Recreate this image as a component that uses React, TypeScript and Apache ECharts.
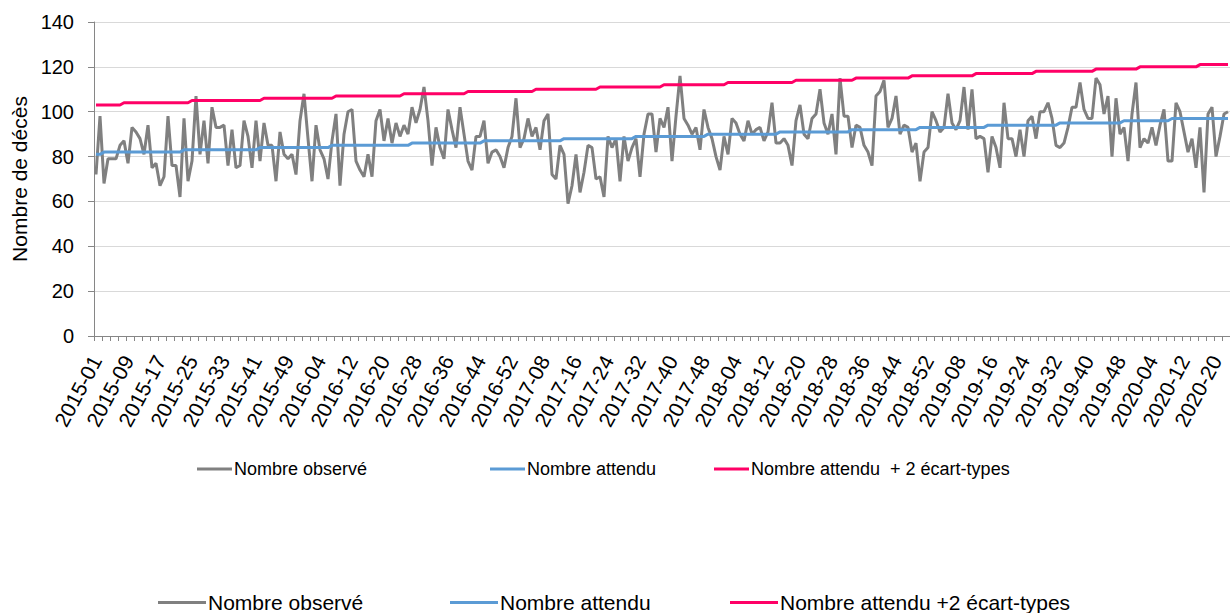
import React, { useEffect, useRef } from "react";
import * as echarts from "echarts";

const FONT = "'Liberation Sans', Arial, sans-serif";

// ISO weeks shown per year
const years = [2015, 2016, 2017, 2018, 2019, 2020];
const weeksPerYear = [53, 52, 52, 52, 52, 23];

const categories: string[] = [];
years.forEach((y, k) => {
  for (let w = 1; w <= weeksPerYear[k]; w++) {
    categories.push(`${y}-${w < 10 ? "0" + w : w}`);
  }
});

const yTicks = { min: 0, max: 140, interval: 20 };

const observed = [
  72, 98, 68, 79, 79, 79, 85, 87, 77, 93,
  91, 88, 81, 94, 75, 77, 67, 71, 98, 76,
  76, 62, 97, 69, 78, 107, 81, 96, 77, 102,
  93, 93, 94, 76, 92, 75, 76, 96, 89, 75,
  96, 78, 95, 85, 85, 69, 91, 81, 79, 81,
  72, 96, 108, 88, 69, 94, 83, 79, 70, 87,
  99, 67, 90, 100, 101, 78, 74, 71, 81, 71,
  96, 101, 87, 97, 86, 95, 89, 94, 90, 102,
  95, 101, 111, 96, 76, 93, 84, 79, 101, 92,
  84, 102, 90, 78, 74, 89, 89, 96, 77, 82,
  83, 80, 75, 84, 89, 106, 84, 88, 97, 89,
  93, 83, 96, 99, 72, 70, 85, 81, 59, 67,
  81, 64, 73, 85, 84, 70, 71, 62, 89, 84,
  88, 69, 89, 78, 84, 88, 71, 90, 99, 99,
  82, 97, 93, 102, 78, 98, 116, 97, 94, 90,
  93, 83, 101, 93, 88, 80, 74, 89, 81, 97,
  95, 90, 87, 96, 90, 92, 93, 87, 91, 104,
  86, 86, 88, 85, 76, 96, 103, 90, 88, 97,
  99, 110, 95, 90, 99, 81, 115, 98, 98, 84,
  94, 93, 85, 82, 76, 107, 109, 114, 93, 97,
  107, 90, 94, 93, 82, 86, 69, 82, 84, 100,
  96, 91, 93, 108, 95, 92, 96, 111, 92, 110,
  88, 89, 88, 73, 89, 84, 75, 104, 88, 88,
  80, 92, 80, 96, 98, 88, 100, 100, 104, 97,
  85, 84, 86, 93, 102, 102, 113, 101, 97, 97,
  115, 112, 99, 107, 80, 106, 90, 93, 78, 99,
  113, 84, 88, 86, 93, 85, 94, 101, 78, 78,
  104, 100, 91, 82, 88, 75, 93, 64, 99, 102,
  80, 89, 99, 100,
];

const expected = [
  81, 81, 82, 82, 82, 82, 82, 82, 82, 82, 82, 82, 82, 82, 82, 82, 82, 82, 82, 82,
  82, 82, 83, 83, 83, 83, 83, 83, 83, 83, 83, 83, 83, 83, 83, 83, 83, 83, 83, 83,
  83, 84, 84, 84, 84, 84, 84, 84, 84, 84, 84, 84, 84, 84, 84, 84, 84, 84, 84, 85,
  85, 85, 85, 85, 85, 85, 85, 85, 85, 85, 85, 85, 85, 85, 85, 85, 85, 85, 85, 86,
  86, 86, 86, 86, 86, 86, 86, 86, 86, 86, 86, 86, 86, 86, 86, 86, 86, 87, 87, 87,
  87, 87, 87, 87, 87, 87, 87, 87, 87, 87, 87, 87, 87, 87, 87, 87, 87, 88, 88, 88,
  88, 88, 88, 88, 88, 88, 88, 88, 88, 88, 88, 88, 88, 88, 88, 89, 89, 89, 89, 89,
  89, 89, 89, 89, 89, 89, 89, 89, 89, 89, 89, 89, 89, 90, 90, 90, 90, 90, 90, 90,
  90, 90, 90, 90, 90, 90, 90, 90, 90, 90, 90, 91, 91, 91, 91, 91, 91, 91, 91, 91,
  91, 91, 91, 91, 91, 91, 91, 91, 91, 92, 92, 92, 92, 92, 92, 92, 92, 92, 92, 92,
  92, 92, 92, 92, 92, 92, 93, 93, 93, 93, 93, 93, 93, 93, 93, 93, 93, 93, 93, 93,
  93, 93, 93, 94, 94, 94, 94, 94, 94, 94, 94, 94, 94, 94, 94, 94, 94, 94, 94, 94,
  94, 95, 95, 95, 95, 95, 95, 95, 95, 95, 95, 95, 95, 95, 95, 95, 95, 96, 96, 96,
  96, 96, 96, 96, 96, 96, 96, 96, 96, 97, 97, 97, 97, 97, 97, 97, 97, 97, 97, 97,
  97, 97, 97, 97,
];

const threshold = [
  103, 103, 103, 103, 103, 103, 103, 104, 104, 104, 104, 104, 104, 104, 104, 104, 104, 104, 104, 104,
  104, 104, 104, 104, 105, 105, 105, 105, 105, 105, 105, 105, 105, 105, 105, 105, 105, 105, 105, 105,
  105, 105, 106, 106, 106, 106, 106, 106, 106, 106, 106, 106, 106, 106, 106, 106, 106, 106, 106, 106,
  107, 107, 107, 107, 107, 107, 107, 107, 107, 107, 107, 107, 107, 107, 107, 107, 107, 108, 108, 108,
  108, 108, 108, 108, 108, 108, 108, 108, 108, 108, 108, 108, 108, 109, 109, 109, 109, 109, 109, 109,
  109, 109, 109, 109, 109, 109, 109, 109, 109, 109, 110, 110, 110, 110, 110, 110, 110, 110, 110, 110,
  110, 110, 110, 110, 110, 110, 111, 111, 111, 111, 111, 111, 111, 111, 111, 111, 111, 111, 111, 111,
  111, 111, 112, 112, 112, 112, 112, 112, 112, 112, 112, 112, 112, 112, 112, 112, 112, 112, 113, 113,
  113, 113, 113, 113, 113, 113, 113, 113, 113, 113, 113, 113, 113, 113, 113, 114, 114, 114, 114, 114,
  114, 114, 114, 114, 114, 114, 114, 114, 114, 114, 115, 115, 115, 115, 115, 115, 115, 115, 115, 115,
  115, 115, 115, 115, 116, 116, 116, 116, 116, 116, 116, 116, 116, 116, 116, 116, 116, 116, 116, 116,
  117, 117, 117, 117, 117, 117, 117, 117, 117, 117, 117, 117, 117, 117, 117, 118, 118, 118, 118, 118,
  118, 118, 118, 118, 118, 118, 118, 118, 118, 118, 119, 119, 119, 119, 119, 119, 119, 119, 119, 119,
  119, 120, 120, 120, 120, 120, 120, 120, 120, 120, 120, 120, 120, 120, 120, 120, 121, 121, 121, 121,
  121, 121, 121, 121,
];

const seriesNames = ["Nombre observé", "Nombre attendu", "Nombre attendu +2 écart-types"];
const seriesColors = ["#808080", "#5B9BD5", "#FF0066"];
const legendTopLabels = ["Nombre observé", "Nombre attendu", "Nombre attendu  + 2 écart-types"];
const legendBottomLabels = ["Nombre observé", "Nombre attendu", "Nombre attendu +2 écart-types"];

function makeLegend(
  name: string,
  label: string,
  left: number,
  top: number,
  fontSize: number,
  lineHeight: number,
  itemWidth: number
) {
  return {
    show: true,
    data: [name],
    left,
    top,
    padding: 0,
    itemGap: 0,
    itemWidth,
    itemHeight: 3,
    icon: "rect",
    selectedMode: false,
    formatter: () => label,
    textStyle: { fontSize, lineHeight, color: "#000", fontFamily: FONT, padding: [0, 0, 0, -3] },
  };
}

export default function App() {
  const ref = useRef<HTMLDivElement>(null);

  useEffect(() => {
    if (!ref.current) return;
    const chart = echarts.init(ref.current, undefined, { renderer: "svg" });
    const topLeft = [197, 490, 714];
    const bottomLeft = [158, 450, 730];
    const legends = [
      ...seriesNames.map((n, k) => makeLegend(n, legendTopLabels[k], topLeft[k], 460, 18, 18, 35)),
      ...seriesNames.map((n, k) => makeLegend(n, legendBottomLabels[k], bottomLeft[k], 592, 21, 20, 48)),
    ];
    const dataSets = [observed, expected, threshold];
    chart.setOption({
      animation: false,
      textStyle: { fontFamily: FONT },
      grid: { left: 94, right: 0, top: 22, bottom: 277, containLabel: false },
      legend: legends,
      xAxis: {
        type: "category",
        data: categories,
        boundaryGap: true,
        axisLine: { show: true, lineStyle: { color: "#868686", width: 1 } },
        axisTick: { show: true, interval: 1, length: 5, lineStyle: { color: "#868686" } },
        axisLabel: {
          interval: 7,
          rotate: 62,
          margin: 21,
          fontSize: 21,
          color: "#000",
          fontFamily: FONT,
        },
        splitLine: { show: false },
      },
      yAxis: {
        type: "value",
        min: yTicks.min,
        max: yTicks.max,
        interval: yTicks.interval,
        name: "Nombre de décès",
        nameLocation: "middle",
        nameRotate: 90,
        nameGap: 60,
        nameTextStyle: { fontSize: 21, color: "#000", fontFamily: FONT },
        axisLine: { show: true, lineStyle: { color: "#868686", width: 1 } },
        axisTick: { show: true, length: 6, lineStyle: { color: "#868686" } },
        axisLabel: { margin: 20, fontSize: 20, color: "#000", fontFamily: FONT },
        splitLine: { show: true, lineStyle: { color: "#D9D9D9", width: 1 } },
      },
      series: seriesNames.map((n, k) => ({
        name: n,
        type: "line",
        data: dataSets[k],
        showSymbol: false,
        symbol: "none",
        color: seriesColors[k],
        lineStyle: { color: seriesColors[k], width: 3 },
      })),
    });
    return () => chart.dispose();
  }, []);

  return (
    <div
      ref={ref}
      style={{ position: "absolute", left: 0, top: 0, width: 1230, height: 613, background: "#fff" }}
    />
  );
}
